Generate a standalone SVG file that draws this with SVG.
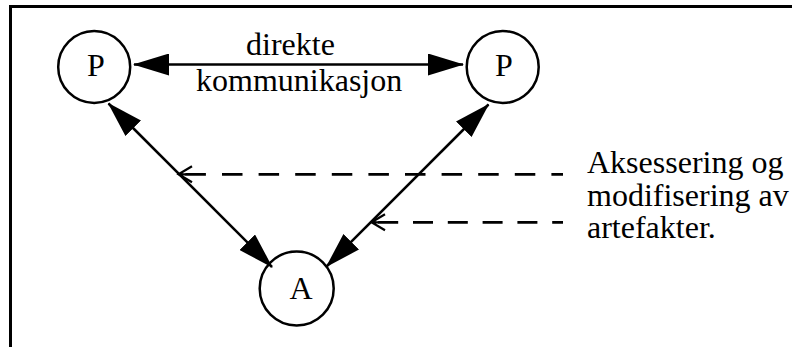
<svg xmlns="http://www.w3.org/2000/svg" width="792" height="347" viewBox="0 0 792 347">
<style>
text{font-family:"Liberation Serif","Times New Roman",serif;font-size:32px;fill:#000}
.node circle{fill:#fff;stroke:#000;stroke-width:2.5}
.solid{stroke:#000;stroke-width:2.5;fill:none}
.dash{stroke:#000;stroke-width:2.7;fill:none}
.chev{stroke:#000;stroke-width:2.2;fill:none}
</style>
<defs>
<marker id="ah" viewBox="0 0 36 22" refX="35" refY="11" markerWidth="36" markerHeight="22" markerUnits="userSpaceOnUse" orient="auto-start-reverse">
<path d="M0,0 L36,11 L0,22 z" fill="#000"/>
</marker>
</defs>
<path d="M10.5,347 V6.5 H792" fill="none" stroke="#000" stroke-width="3"/>
<g id="nodeP1" class="node"><circle cx="94.2" cy="67" r="36"/><text x="96" y="76" text-anchor="middle">P</text></g>
<g id="nodeP2" class="node"><circle cx="502.7" cy="67" r="36"/><text x="504" y="75.5" text-anchor="middle">P</text></g>
<g id="nodeA" class="node"><circle cx="296.7" cy="288.5" r="37"/><text x="301" y="298.5" text-anchor="middle">A</text></g>
<g id="connectors">
<line class="solid" x1="134" y1="64.5" x2="463" y2="64.5" marker-start="url(#ah)" marker-end="url(#ah)"/>
<line class="solid" x1="108.5" y1="103.5" x2="272" y2="267" marker-start="url(#ah)" marker-end="url(#ah)"/>
<line class="solid" x1="488.5" y1="104.5" x2="326.5" y2="266.5" marker-start="url(#ah)" marker-end="url(#ah)"/>
<line class="dash" x1="185.4" y1="174.3" x2="563" y2="174.3" stroke-dasharray="20.5 16.1"/>
<path class="chev" d="M192,166.3 L178.5,174.3 L192,182.3 M178.5,174.3 H186"/>
<line class="dash" x1="378.2" y1="222.3" x2="563" y2="222.3" stroke-dasharray="20 14.8"/>
<path class="chev" d="M385,214.3 L371.5,222.3 L385,230.3 M371.5,222.3 H379"/>
</g>
<g id="labels">
<text x="246" y="55">direkte</text>
<text x="196" y="91">kommunikasjon</text>
<text x="587" y="173">Aksessering og</text>
<text x="587" y="205.5">modifisering av</text>
<text x="587" y="238">artefakter.</text>
</g>
</svg>
